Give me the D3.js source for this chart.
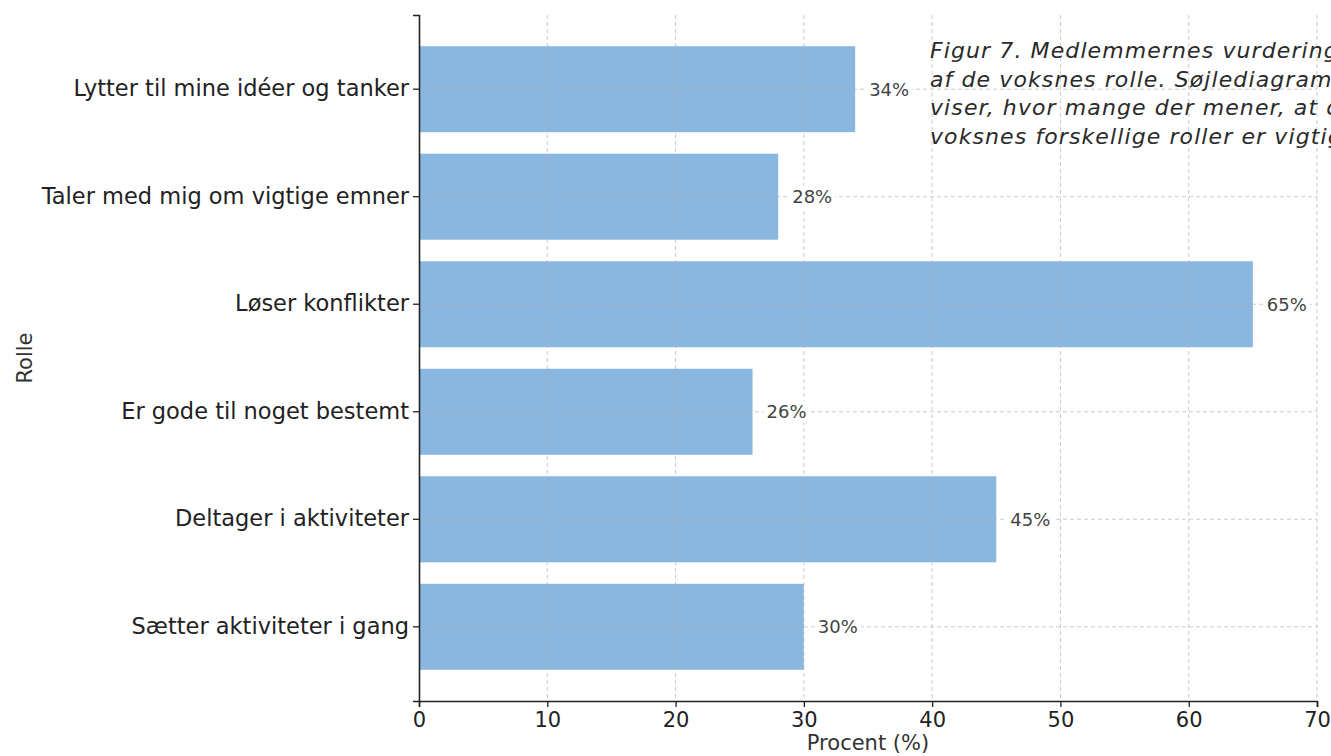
<!DOCTYPE html>
<html>
<head>
<meta charset="utf-8">
<script src="https://cdn.jsdelivr.net/npm/d3@7"></script>
<style>
  body { margin: 0; background: #fff; }
  svg { display: block; }
</style>
</head>
<body>
<div id="chart"></div>
<script>
var roles = [
    "Lytter til mine idéer og tanker",
    "Taler med mig om vigtige emner",
    "Løser konflikter",
    "Er gode til noget bestemt",
    "Deltager i aktiviteter",
    "Sætter aktiviteter i gang"
];
var percents = [34, 28, 65, 26, 45, 30];
var xTicks = [0, 10, 20, 30, 40, 50, 60, 70];
var captionLines = [
    "Figur 7. Medlemmernes vurdering",
    "af de voksnes rolle. Søjlediagrammet",
    "viser, hvor mange der mener, at de",
    "voksnes forskellige roller er vigtige."
];

var width = 1331, height = 756;
var margin = {top: 15, right: 14, bottom: 55, left: 419};

var svg = d3.select("#chart").append("svg")
    .attr("width", width)
    .attr("height", height)
    .style("font-family", "'DejaVu Sans', sans-serif");

var x = d3.scaleLinear()
    .domain([0, 70])
    .range([margin.left, width - margin.right]);

var y = d3.scaleBand()
    .domain(roles)
    .range([margin.top, height - margin.bottom])
    .paddingInner(0.2)
    .paddingOuter(0.29);

var data = roles.map(function(r, i) { return {role: r, value: percents[i]}; });

// bars
svg.append("g")
    .selectAll("rect")
    .data(data)
    .enter().append("rect")
    .attr("x", x(0))
    .attr("y", d => y(d.role))
    .attr("width", d => x(d.value) - x(0))
    .attr("height", y.bandwidth())
    .attr("fill", "#89b7e0");

// grid (drawn above the bars, faint)
var grid = svg.append("g")
    .attr("stroke", "#b0b0b0")
    .attr("stroke-opacity", 0.65)
    .attr("stroke-width", 1)
    .attr("stroke-dasharray", "4,3");
grid.selectAll("line.v")
    .data(xTicks.slice(1))
    .enter().append("line")
    .attr("class", "v")
    .attr("x1", d => x(d)).attr("x2", d => x(d))
    .attr("y1", margin.top).attr("y2", height - margin.bottom);
grid.selectAll("line.h")
    .data(roles)
    .enter().append("line")
    .attr("class", "h")
    .attr("x1", x(0)).attr("x2", x(70))
    .attr("y1", d => y(d) + y.bandwidth() / 2)
    .attr("y2", d => y(d) + y.bandwidth() / 2);

// value labels with white box
var labels = svg.append("g")
    .selectAll("g")
    .data(data)
    .enter().append("g")
    .attr("transform", d => "translate(" + (x(d.value) + 14) + "," + (y(d.role) + y.bandwidth() / 2) + ")");
labels.append("rect")
    .attr("x", -3)
    .attr("y", -11)
    .attr("width", 46)
    .attr("height", 22)
    .attr("fill", "#fff");
labels.append("text")
    .attr("dy", "0.35em")
    .attr("font-size", 18)
    .attr("fill", "#444")
    .text(d => d.value + "%");

// axes
var xAxis = svg.append("g")
    .attr("transform", "translate(0," + (height - margin.bottom) + ")")
    .call(d3.axisBottom(x).tickValues(xTicks).tickSize(6).tickPadding(5));
xAxis.select(".domain").attr("stroke", "#222").attr("stroke-width", 1.6);
xAxis.selectAll(".tick line").attr("stroke", "#222").attr("stroke-width", 1.3);
xAxis.selectAll(".tick text")
    .attr("font-size", 21)
    .attr("fill", "#222")
    .style("font-family", "'DejaVu Sans', sans-serif");

var yAxis = svg.append("g")
    .attr("transform", "translate(" + margin.left + ",0)")
    .call(d3.axisLeft(y).tickSize(6).tickPadding(4));
yAxis.select(".domain").attr("stroke", "#222").attr("stroke-width", 1.6);
yAxis.selectAll(".tick line").attr("stroke", "#222").attr("stroke-width", 1.3);
yAxis.selectAll(".tick text")
    .attr("font-size", 22.5)
    .attr("fill", "#222")
    .style("font-family", "'DejaVu Sans', sans-serif");

// axis titles
svg.append("text")
    .attr("x", (x(0) + x(70)) / 2)
    .attr("y", 750)
    .attr("text-anchor", "middle")
    .attr("font-size", 21)
    .attr("fill", "#333")
    .text("Procent (%)");

svg.append("text")
    .attr("transform", "translate(32," + ((margin.top + height - margin.bottom) / 2) + ") rotate(-90)")
    .attr("text-anchor", "middle")
    .attr("font-size", 21)
    .attr("fill", "#333")
    .text("Rolle");

// caption
svg.append("text")
    .attr("x", 930)
    .attr("y", 58)
    .attr("font-size", 22)
    .attr("letter-spacing", 1.1)
    .attr("font-style", "italic")
    .attr("fill", "#2a2a2a")
    .selectAll("tspan")
    .data(captionLines)
    .enter().append("tspan")
    .attr("x", 930)
    .attr("dy", (d, i) => i === 0 ? 0 : 28.5)
    .text(d => d);
</script>
</body>
</html>
